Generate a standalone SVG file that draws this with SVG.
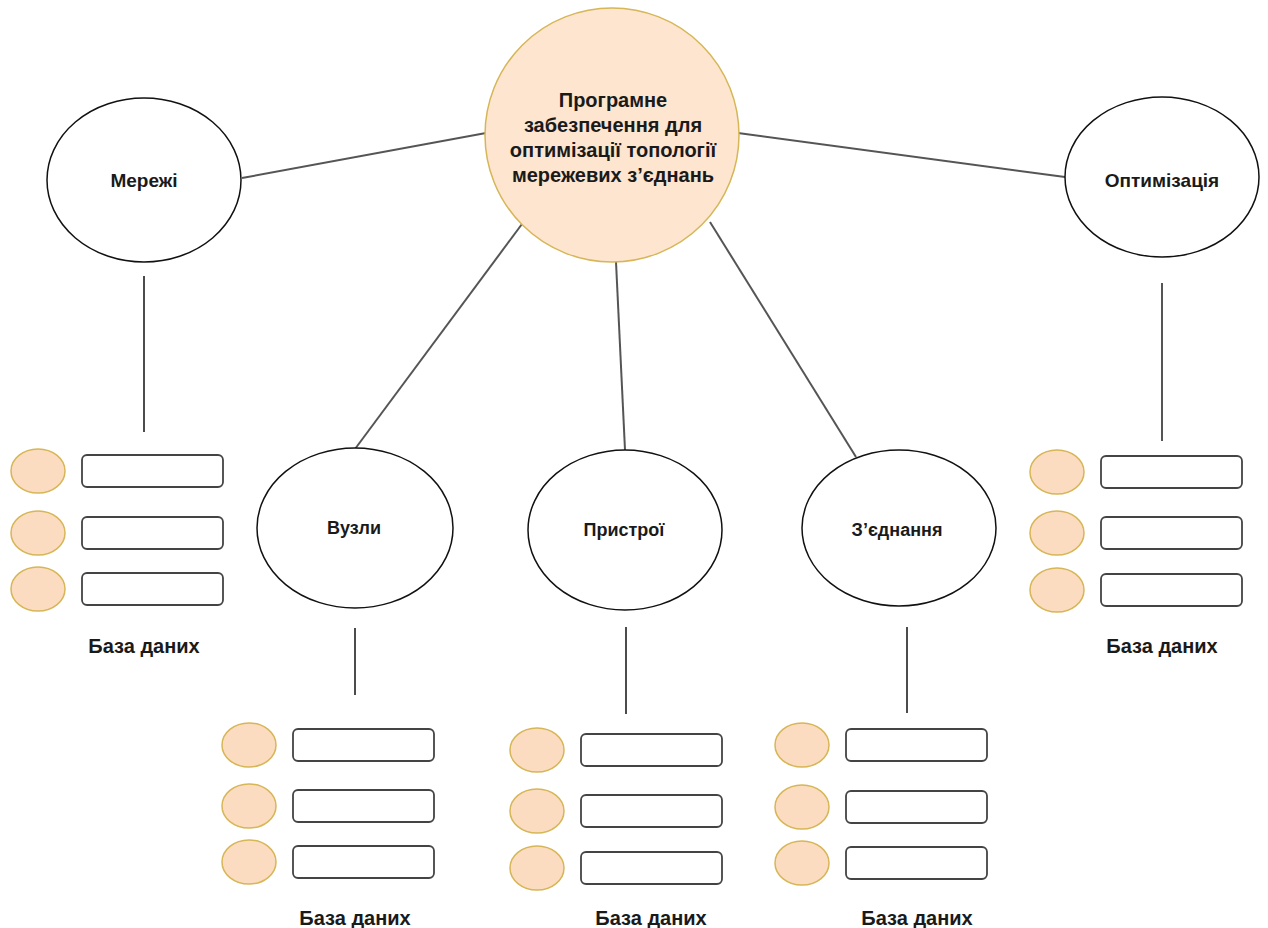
<svg xmlns="http://www.w3.org/2000/svg" width="1268" height="928" viewBox="0 0 1268 928">
<style>
text{font-family:"Liberation Sans",Arial,sans-serif;fill:#1a1a1a;text-anchor:middle;dominant-baseline:central}
.b{font-weight:bold}
.node{fill:#fff;stroke:#111;stroke-width:1.5}
.hub{fill:#fde5d0;stroke:#d6b656;stroke-width:1.5}
.dot{fill:#fcdcc0;stroke:#d6b656;stroke-width:1.5}
.box{fill:#fff;stroke:#444;stroke-width:1.8}
.lg{stroke:#555;stroke-width:2;fill:none}
.lk{stroke:#111;stroke-width:1.5;fill:none}
</style>
<defs>
<g id="db">
<ellipse class="dot" cx="27" cy="0" rx="27" ry="22"/>
<rect class="box" x="71" y="-16" width="141" height="32" rx="5"/>
</g>
</defs>
<rect width="1268" height="928" fill="#fff"/>
<g id="connectors">
<line class="lg" x1="242" y1="178" x2="486" y2="133"/>
<line class="lg" x1="738" y1="133" x2="1065" y2="177"/>
<line class="lg" x1="522" y1="224" x2="355" y2="449"/>
<line class="lg" x1="616" y1="262" x2="625" y2="450"/>
<line class="lg" x1="710" y1="222" x2="856" y2="457"/>
<line class="lk" x1="144" y1="276" x2="144" y2="432"/>
<line class="lg" x1="1162" y1="283" x2="1162" y2="441"/>
<line class="lk" x1="355" y1="628" x2="355" y2="695"/>
<line class="lk" x1="626" y1="627" x2="626" y2="714"/>
<line class="lk" x1="907" y1="627" x2="907" y2="713"/>
</g>
<g id="hub">
<circle class="hub" cx="612" cy="135" r="127"/>
<text class="b" font-size="20" x="613" y="100">Програмне</text>
<text class="b" font-size="20" x="613" y="125">забезпечення для</text>
<text class="b" font-size="20" x="613" y="150">оптимізації топології</text>
<text class="b" font-size="20" x="613" y="175">мережевих з’єднань</text>
</g>
<g id="n-merezhi">
<ellipse class="node" cx="144" cy="180" rx="97" ry="82"/>
<text class="b" font-size="19" x="144" y="180">Мережі</text>
</g>
<g id="n-optym">
<ellipse class="node" cx="1162" cy="177" rx="97" ry="80"/>
<text class="b" font-size="19" x="1162" y="180">Оптимізація</text>
</g>
<g id="n-vuzly">
<ellipse class="node" cx="355" cy="528" rx="98" ry="80"/>
<text class="b" font-size="18" x="354" y="528">Вузли</text>
</g>
<g id="n-prystroi">
<ellipse class="node" cx="625" cy="530" rx="97" ry="80"/>
<text class="b" font-size="18" x="624" y="530">Пристрої</text>
</g>
<g id="n-ziednannia">
<ellipse class="node" cx="899" cy="528" rx="97" ry="78"/>
<text class="b" font-size="18" x="897" y="530">З’єднання</text>
</g>
<g id="db-merezhi">
<use href="#db" x="11" y="471"/>
<use href="#db" x="11" y="533"/>
<use href="#db" x="11" y="589"/>
<text class="b" font-size="20" x="144" y="646">База даних</text>
</g>
<g id="db-vuzly">
<use href="#db" x="222" y="745"/>
<use href="#db" x="222" y="806"/>
<use href="#db" x="222" y="862"/>
<text class="b" font-size="20" x="355" y="918">База даних</text>
</g>
<g id="db-prystroi">
<use href="#db" x="510" y="750"/>
<use href="#db" x="510" y="811"/>
<use href="#db" x="510" y="868"/>
<text class="b" font-size="20" x="651" y="918">База даних</text>
</g>
<g id="db-ziednannia">
<use href="#db" x="775" y="745"/>
<use href="#db" x="775" y="807"/>
<use href="#db" x="775" y="863"/>
<text class="b" font-size="20" x="917" y="918">База даних</text>
</g>
<g id="db-optym">
<use href="#db" x="1030" y="472"/>
<use href="#db" x="1030" y="533"/>
<use href="#db" x="1030" y="590"/>
<text class="b" font-size="20" x="1162" y="646">База даних</text>
</g>
</svg>
